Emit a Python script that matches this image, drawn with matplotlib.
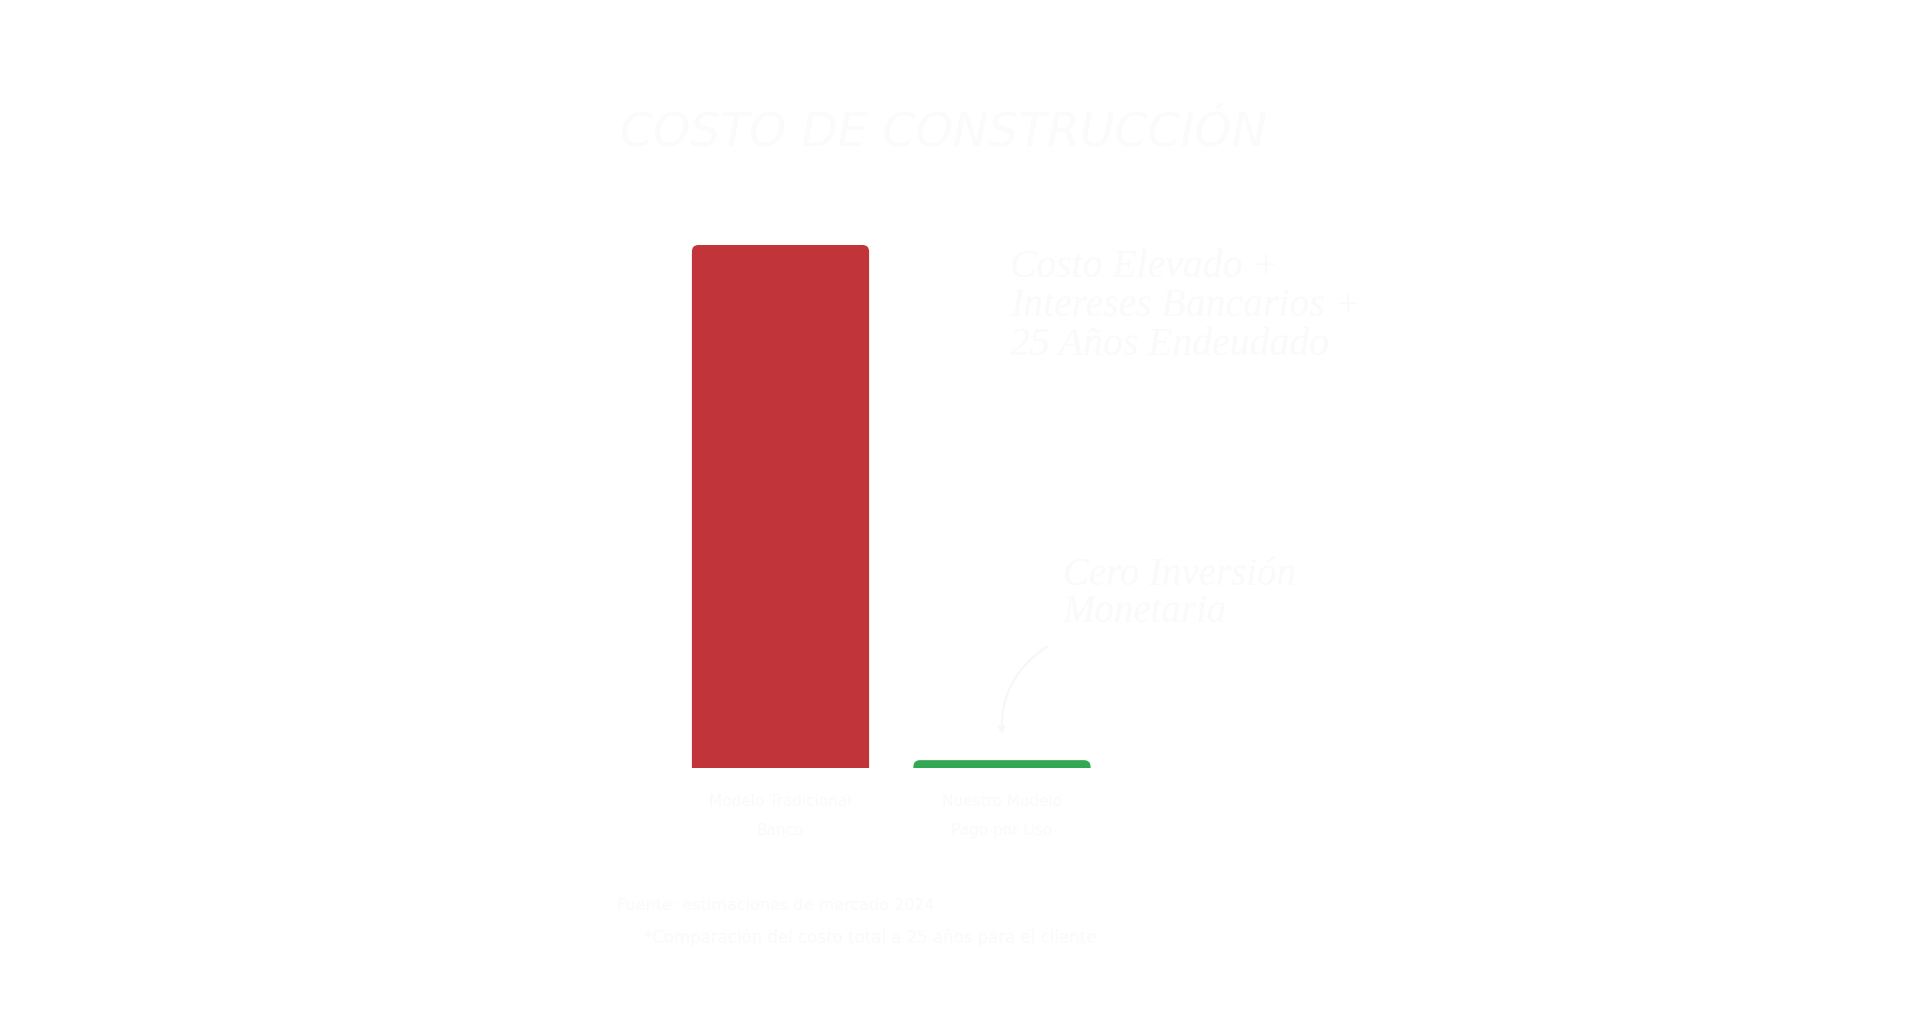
import matplotlib
matplotlib.use("Agg")
import matplotlib.pyplot as plt
from matplotlib.patches import FancyBboxPatch

# ---- data ----
categories = ["Modelo Tradicional\nBanco", "Nuestro Modelo\nPago por Uso"]
values = [100.0, 1.5]
bar_colors = ["#C1353A", "#33A852"]
title_text = "COSTO DE CONSTRUCCIÓN"
note_high = "Costo Elevado +\nIntereses Bancarios +\n25 Años Endeudado"
note_low = "Cero Inversión\nMonetaria"
footer_1 = "Fuente: estimaciones de mercado 2024"
footer_2 = "*Comparación del costo total a 25 años para el cliente"

W, H = 1920, 1034
fig = plt.figure(figsize=(W / 100, H / 100), dpi=100, facecolor="white")

# axes placement (pixels -> fractions)
x0_px, unit_px = 780.5, 221.5
xlim = (-0.5, 2.5)
base_px, yunit_px = 768, 5.23
ylim = (0, 115)
left = (x0_px + xlim[0] * unit_px) / W
width = (xlim[1] - xlim[0]) * unit_px / W
bottom = (H - base_px) / H
height = (ylim[1] - ylim[0]) * yunit_px / H
ax = fig.add_axes([left, bottom, width, height])
ax.set_xlim(*xlim)
ax.set_ylim(*ylim)
ax.set_facecolor("none")
for s in ax.spines.values():
    s.set_visible(False)
ax.set_yticks([])

bars = ax.bar(range(len(values)), values, width=0.8, color=bar_colors)
# replace with top-rounded bars
aspect = (1.0 / yunit_px) / (1.0 / unit_px)
for b in bars:
    bx, bw, bh = b.get_x(), b.get_width(), b.get_height()
    c = b.get_facecolor()
    b.remove()
    ext = 6
    p = FancyBboxPatch((bx, -ext), bw, bh + ext,
                       boxstyle="round,pad=0,rounding_size=0.03",
                       mutation_aspect=aspect, facecolor=c, edgecolor="none")
    ax.add_patch(p)

faint = "#fafafa"
ax.set_xticks(range(len(categories)))
ax.set_xticklabels(categories, fontsize=11, color=faint, linespacing=2.1)
ax.tick_params(axis="x", length=0, pad=19)

# annotations
ax.text(1.036, 88.3, note_high, fontsize=28.5, family="Liberation Serif",
        style="italic", color=faint, ha="left", va="center",
        linespacing=1.07, clip_on=False)
ax.text(1.275, 33.2, note_low, fontsize=28, family="Liberation Serif",
        style="italic", color=faint, ha="left", va="center",
        linespacing=1.0, clip_on=False)
ax.annotate("", xy=(1.0, values[1] + 4.5), xytext=(1.215, 23.5),
            arrowprops=dict(arrowstyle="->", color="#f7f7f7", lw=1.5,
                            connectionstyle="arc3,rad=0.3"),
            annotation_clip=False)

# title and footer
fig.text(944 / W, 1 - 133 / H, title_text, fontsize=34, family="DejaVu Sans",
         style="italic", color="#fbfbfb", ha="center", va="center")
fig.text(617 / W, 1 - 905 / H, footer_1, fontsize=11.5, color=faint,
         ha="left", va="center")
fig.text(870 / W, 1 - 938 / H, footer_2, fontsize=12, color=faint,
         ha="center", va="center")

fig.savefig("out.png", dpi=100, facecolor="white")
